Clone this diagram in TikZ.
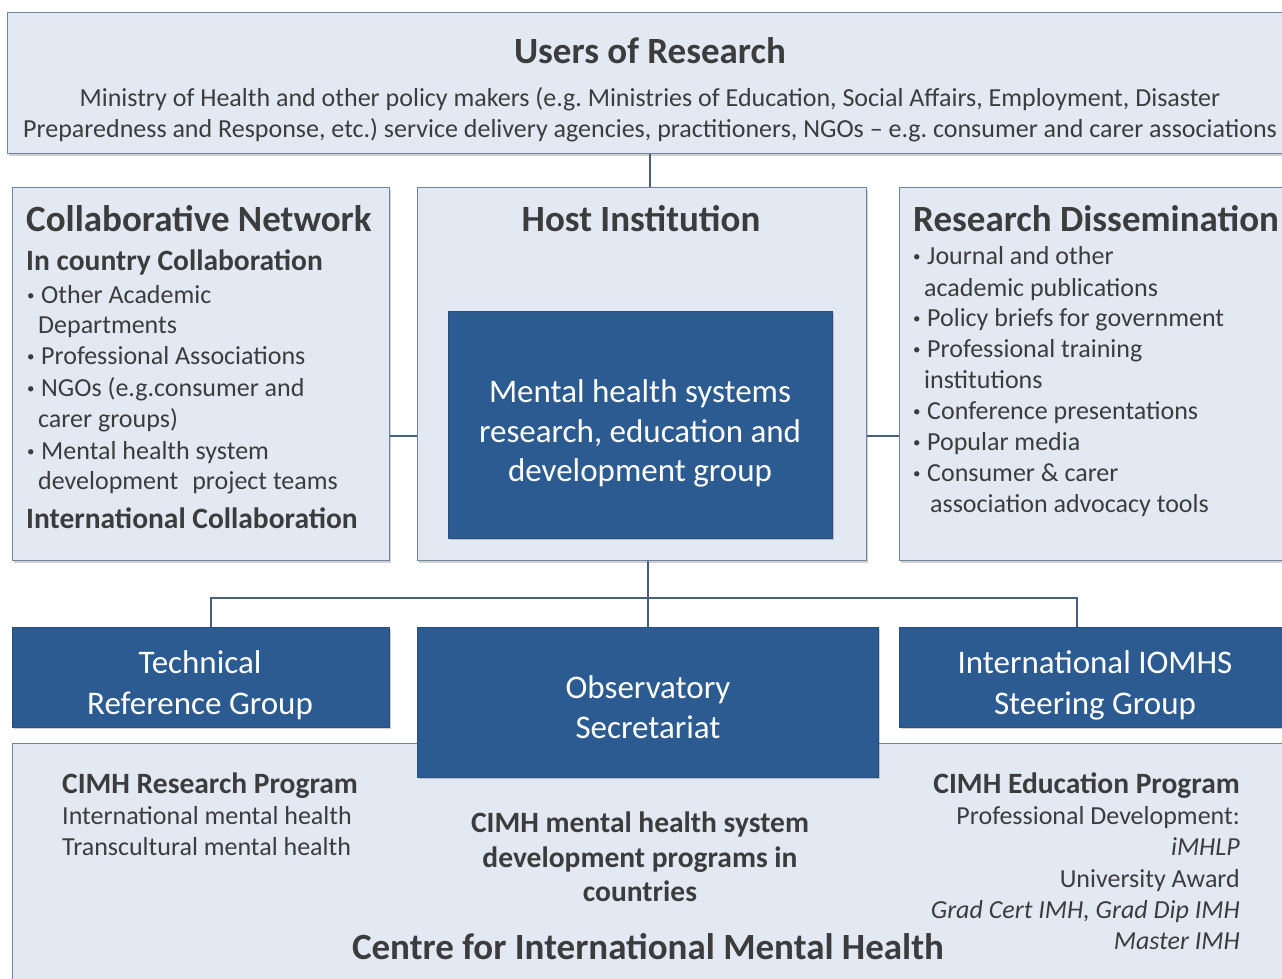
\documentclass[tikz,border=0pt]{standalone}
\usepackage{fontspec}
\setmainfont{Carlito}
\usetikzlibrary{shadows}
\frenchspacing

\definecolor{boxfill}{RGB}{226,233,243}
\definecolor{boxline}{RGB}{112,132,160}
\definecolor{darkfill}{RGB}{44,91,145}
\definecolor{darkline}{RGB}{38,78,126}
\definecolor{txt}{RGB}{60,60,60}
\definecolor{wire}{RGB}{72,94,122}

% small raised bullet used in the lists
\newcommand\listdot{\makebox[14pt][l]{\fontsize{15}{15}\selectfont\raisebox{3pt}{•}}}

\begin{document}
\begin{tikzpicture}[x=1pt,y=-1pt,
  lightbox/.style={rectangle, draw=boxline, line width=1.2pt, fill=boxfill, inner sep=0pt,
    drop shadow={shadow xshift=1.5pt, shadow yshift=-2pt, opacity=0.3, fill=black!60}},
  darkbox/.style={rectangle, draw=darkline, line width=0.8pt, fill=darkfill, inner sep=0pt,
    drop shadow={shadow xshift=1.5pt, shadow yshift=-2pt, opacity=0.3, fill=black!60}},
  wirestyle/.style={draw=wire, line width=1.4pt},
  tx/.style={inner sep=0pt, text=txt, font=\fontsize{26}{30}\selectfont},
  itx/.style={inner sep=0pt, text=txt, font=\fontsize{26}{30}\selectfont\itshape},
  title/.style={inner sep=0pt, text=txt, font=\fontsize{37}{42}\selectfont\bfseries},
  subtitle/.style={inner sep=0pt, text=txt, font=\fontsize{29.5}{34}\selectfont\bfseries},
  wtx/.style={inner sep=0pt, text=white, font=\fontsize{33}{38}\selectfont},
]
\useasboundingbox (0,0) rectangle (1282,978);
\clip (0,0) rectangle (1282,978);
\fill[white] (0,0) rectangle (1282,978);

% ---------- boxes ----------
\node[lightbox, anchor=north west, minimum width=1285pt, minimum height=141pt] (users) at (7,12) {};
\node[lightbox, anchor=north west, minimum width=377pt, minimum height=373pt] (collab) at (12,187) {};
\node[lightbox, anchor=north west, minimum width=449pt, minimum height=373pt] (host) at (417,187) {};
\node[lightbox, anchor=north west, minimum width=392pt, minimum height=373pt] (dissem) at (899,187) {};
\node[darkbox, anchor=north west, minimum width=384pt, minimum height=227pt] (mhs) at (448,311) {};

\node[lightbox, anchor=north west, minimum width=1290pt, minimum height=260pt] (cimh) at (12,743) {};
\node[darkbox, anchor=north west, minimum width=377pt, minimum height=100pt] (trg) at (12,627) {};
\node[darkbox, anchor=north west, minimum width=461pt, minimum height=150pt] (obs) at (417,627) {};
\node[darkbox, anchor=north west, minimum width=392pt, minimum height=100pt] (iomhs) at (899,627) {};

% ---------- connectors ----------
\coordinate (topdrop) at (650,170);
\coordinate (midrow) at (400,436);
\coordinate (busL) at (211,598);
\coordinate (busR) at (1077,598);
\draw[wirestyle] (topdrop |- users.south) -- (topdrop |- host.north);
\draw[wirestyle] (collab.east |- midrow) -- (host.west |- midrow);
\draw[wirestyle] (host.east |- midrow) -- (dissem.west |- midrow);
\draw[wirestyle] (obs.north) -- (obs.north |- host.south);
\draw[wirestyle] (trg.north -| busL) -- (busL) -- (busR) -- (iomhs.north -| busR);

% ---------- Users of Research ----------
\node[title, anchor=base] (usersT) at (650,63.5) {Users of Research};
\node[tx, anchor=base] (usersA) at (650,106.4) {Ministry of Health and other policy makers (e.g. Ministries of Education, Social Affairs, Employment, Disaster};
\node[tx, anchor=base] (usersB) at (650,137.4) {Preparedness and Response, etc.) service delivery agencies, practitioners, NGOs – e.g. consumer and carer associations};

% ---------- Collaborative Network ----------
\node[title, anchor=base west] (colT) at (26,231.5) {Collaborative Network};
\node[subtitle, anchor=base west] (colS) at (26,270.8) {In country Collaboration};
\node[tx, anchor=base west] (col1) at (27,303.4) {\listdot Other Academic};
\node[tx, anchor=base west] (col1b) at (38,333.4) {Departments};
\node[tx, anchor=base west] (col2) at (27,364.4) {\listdot Professional Associations};
\node[tx, anchor=base west] (col3) at (27,396.4) {\listdot NGOs (e.g.consumer and};
\node[tx, anchor=base west] (col3b) at (38,427.4) {carer groups)};
\node[tx, anchor=base west] (col4) at (27,459.4) {\listdot Mental health system};
\node[tx, anchor=base west] (col4b) at (38,489.4) {development\hspace{14pt}project teams};
\node[subtitle, anchor=base west] (colI) at (26,528.8) {International Collaboration};

% ---------- Host Institution ----------
\node[title, anchor=base] (hostT) at (641,231.5) {Host Institution};
\node[wtx, anchor=base] (mhs1) at (640,402.2) {Mental health systems};
\node[wtx, anchor=base] (mhs2) at (640,442.2) {research, education and};
\node[wtx, anchor=base] (mhs3) at (640,481.2) {development group};

% ---------- Research Dissemination ----------
\node[title, anchor=base west] (disT) at (913,231.5) {Research Dissemination};
\node[tx, anchor=base west] (dis1) at (913,264.4) {\listdot Journal and other};
\node[tx, anchor=base west] (dis1b) at (924,296.4) {academic publications};
\node[tx, anchor=base west] (dis2) at (913,326.4) {\listdot Policy briefs for government};
\node[tx, anchor=base west] (dis3) at (913,357.4) {\listdot Professional training};
\node[tx, anchor=base west] (dis3b) at (924,388.4) {institutions};
\node[tx, anchor=base west] (dis4) at (913,419.4) {\listdot Conference presentations};
\node[tx, anchor=base west] (dis5) at (913,450.4) {\listdot Popular media};
\node[tx, anchor=base west] (dis6) at (913,481.4) {\listdot Consumer \& carer};
\node[tx, anchor=base west] (dis6b) at (930,512.4) {association advocacy tools};

% ---------- groups ----------
\node[wtx, anchor=base] (trg1) at (200,673.2) {Technical};
\node[wtx, anchor=base] (trg2) at (200,714.2) {Reference Group};
\node[wtx, anchor=base] (obs1) at (648,698.2) {Observatory};
\node[wtx, anchor=base] (obs2) at (648,738.2) {Secretariat};
\node[wtx, anchor=base] (iom1) at (1095,673.2) {International IOMHS};
\node[wtx, anchor=base] (iom2) at (1095,714.2) {Steering Group};

% ---------- Centre for International Mental Health ----------
\node[subtitle, anchor=base west] (resT) at (62,793.8) {CIMH Research Program};
\node[tx, anchor=base west] (res1) at (62,824.4) {International mental health};
\node[tx, anchor=base west] (res2) at (62,855.4) {Transcultural mental health};

\node[subtitle, anchor=base] (dev1) at (640,832.8) {CIMH mental health system};
\node[subtitle, anchor=base] (dev2) at (640,867.8) {development programs in};
\node[subtitle, anchor=base] (dev3) at (640,901.8) {countries};

\node[title, anchor=base] (cimhT) at (648,959.5) {Centre for International Mental Health};

\node[subtitle, anchor=base east] (eduT) at (1240,793.8) {CIMH Education Program};
\node[tx, anchor=base east] (edu1) at (1240,824.4) {Professional Development:};
\node[itx, anchor=base east] (edu2) at (1240,855.4) {iMHLP};
\node[tx, anchor=base east] (edu3) at (1240,887.4) {University Award};
\node[itx, anchor=base east] (edu4) at (1240,918.4) {Grad Cert IMH, Grad Dip IMH};
\node[itx, anchor=base east] (edu5) at (1240,949.4) {Master IMH};
\end{tikzpicture}
\end{document}
